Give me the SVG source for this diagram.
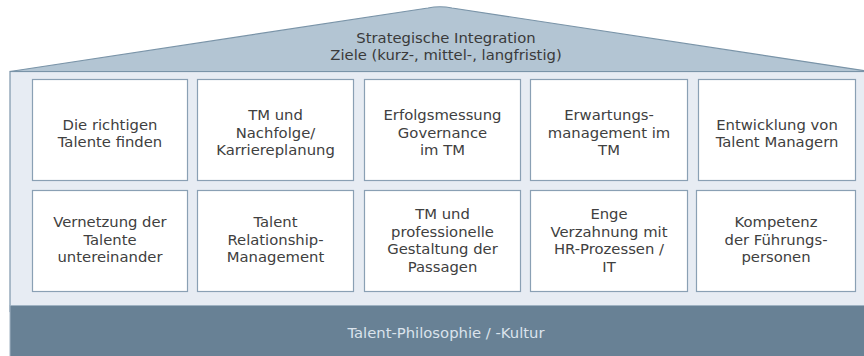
<svg xmlns="http://www.w3.org/2000/svg" width="864" height="356" viewBox="0 0 864 356">
<style>
.box{fill:#ffffff;stroke:#8aa0b4;stroke-width:1.2}
.t{font-family:"DejaVu Sans",Verdana,sans-serif;font-size:14.8px;fill:#404040;text-anchor:middle}
.roof{font-family:"DejaVu Sans",Verdana,sans-serif;font-size:14.8px;fill:#3a3a3a;text-anchor:middle}
.foot{font-family:"DejaVu Sans",Verdana,sans-serif;font-size:14.8px;fill:#dbe3ec;text-anchor:middle}
</style>
<g id="house">
<rect x="10" y="71.5" width="860" height="240" fill="#e7ecf3" stroke="#7d96ab" stroke-width="1.2"/>
<path d="M10,71.5 L428,8 Q440,5.5 452,8 L870,71.5 Z" fill="#b3c5d3" stroke="#7a94a8" stroke-width="1.2"/>
<rect x="10" y="305.5" width="860" height="52" fill="#688195" stroke="#9fb2c2" stroke-width="1"/>
</g>
<g id="roof-text">
<text class="roof" x="446" y="43">Strategische Integration</text>
<text class="roof" x="446" y="60">Ziele (kurz-, mittel-, langfristig)</text>
</g>
<g id="n1"><rect class="box" x="32.5" y="79.5" width="155" height="101"/>
<text class="t" x="110" y="130">Die richtigen</text><text class="t" x="110" y="147">Talente finden</text></g>
<g id="n2"><rect class="box" x="197.5" y="79.5" width="156" height="101"/>
<text class="t" x="275.5" y="120">TM und</text><text class="t" x="275.5" y="137.5">Nachfolge/</text><text class="t" x="275.5" y="155">Karriereplanung</text></g>
<g id="n3"><rect class="box" x="364.5" y="79.5" width="156" height="101"/>
<text class="t" x="442.5" y="120">Erfolgsmessung</text><text class="t" x="442.5" y="137.5">Governance</text><text class="t" x="442.5" y="155">im TM</text></g>
<g id="n4"><rect class="box" x="530.5" y="79.5" width="157" height="101"/>
<text class="t" x="609" y="120">Erwartungs-</text><text class="t" x="609" y="137.5">management im</text><text class="t" x="609" y="155">TM</text></g>
<g id="n5"><rect class="box" x="698.5" y="79.5" width="157" height="101"/>
<text class="t" x="777" y="130">Entwicklung von</text><text class="t" x="777" y="147">Talent Managern</text></g>
<g id="n6"><rect class="box" x="32.5" y="190.5" width="155" height="101"/>
<text class="t" x="110" y="227">Vernetzung der</text><text class="t" x="110" y="244.5">Talente</text><text class="t" x="110" y="262">untereinander</text></g>
<g id="n7"><rect class="box" x="197.5" y="190.5" width="156" height="101"/>
<text class="t" x="275.5" y="227">Talent</text><text class="t" x="275.5" y="244.5">Relationship-</text><text class="t" x="275.5" y="262">Management</text></g>
<g id="n8"><rect class="box" x="364.5" y="190.5" width="156" height="101"/>
<text class="t" x="442.5" y="219">TM und</text><text class="t" x="442.5" y="236.5">professionelle</text><text class="t" x="442.5" y="254">Gestaltung der</text><text class="t" x="442.5" y="271.5">Passagen</text></g>
<g id="n9"><rect class="box" x="530.5" y="190.5" width="157" height="101"/>
<text class="t" x="609" y="219">Enge</text><text class="t" x="609" y="236.5">Verzahnung mit</text><text class="t" x="609" y="254">HR-Prozessen /</text><text class="t" x="609" y="271.5">IT</text></g>
<g id="n10"><rect class="box" x="696.5" y="190.5" width="159" height="101"/>
<text class="t" x="776" y="227">Kompetenz</text><text class="t" x="776" y="244.5">der Führungs-</text><text class="t" x="776" y="262">personen</text></g>
<g id="footer-text">
<text class="foot" x="446" y="338">Talent-Philosophie / -Kultur</text>
</g>
<g id="connectors"/>
</svg>
